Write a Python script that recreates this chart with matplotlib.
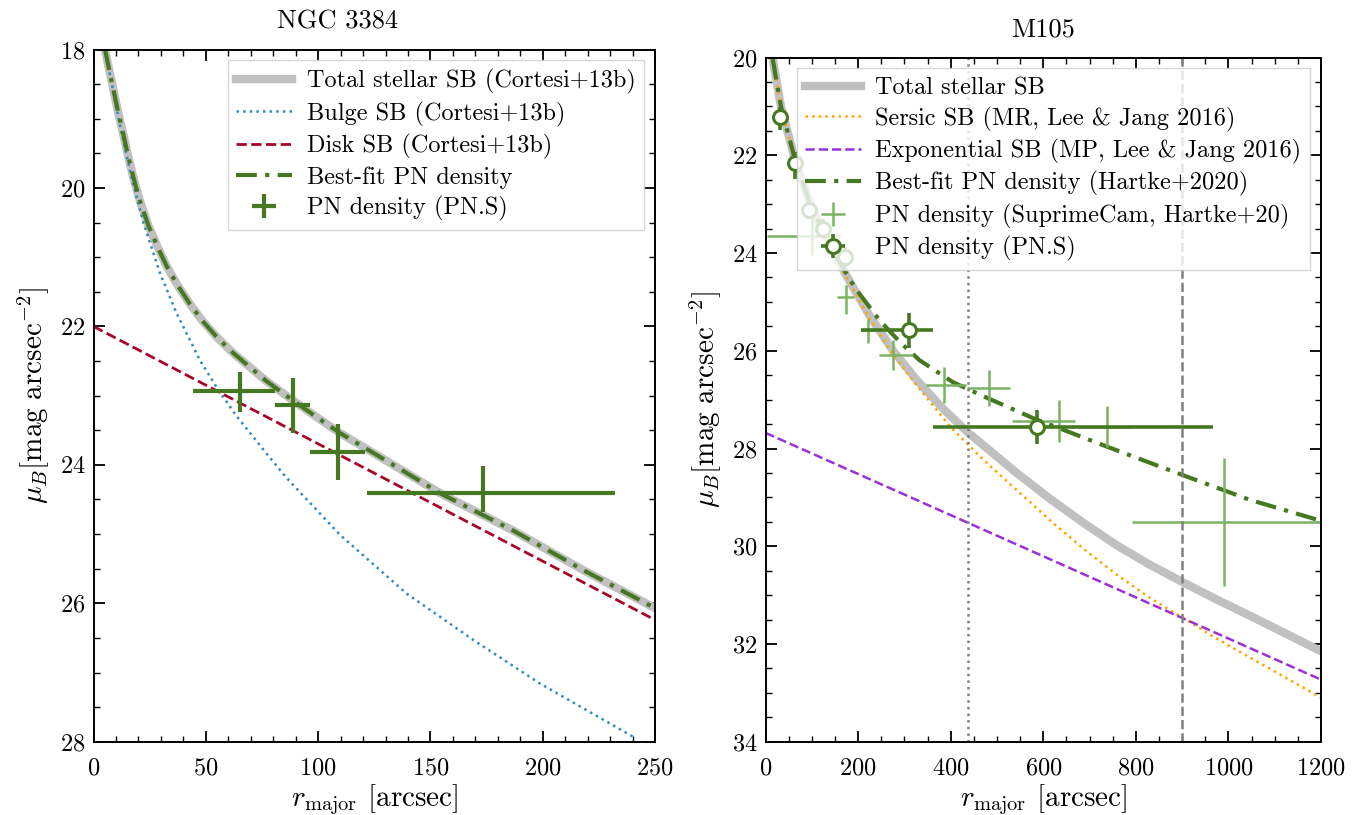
import numpy as np
import matplotlib
matplotlib.use('Agg')
import matplotlib.pyplot as plt
from matplotlib.ticker import MultipleLocator

plt.rcParams['font.family'] = ['cmr10', 'DejaVu Serif']
plt.rcParams['mathtext.fontset'] = 'cm'
plt.rcParams['axes.formatter.use_mathtext'] = True
plt.rcParams['font.size'] = 17

# ---------------- NGC 3384 ----------------
# total stellar SB
n3384_tot_r = [5.1, 8.8, 11.0, 13.3, 15.5, 17.7, 20.5, 24.4, 28.5, 32.6, 37.5, 43.0, 48.5, 54.8, 61.0, 68.2,
               77.0, 87.5, 98.0, 109.7, 121.6, 137.0, 154.3, 170.0, 186.9, 218.0, 250.0]
n3384_tot_mu = [18.0, 18.57, 18.91, 19.23, 19.55, 19.84, 20.17, 20.54, 20.85, 21.13, 21.41, 21.68, 21.92, 22.15,
                22.35, 22.55, 22.79, 23.04, 23.28, 23.54, 23.77, 24.07, 24.41, 24.67, 24.95, 25.52, 26.07]
# bulge SB
n3384_bulge_r = [5.5, 8.1, 12.1, 17.0, 22.2, 29.6, 37.0, 47.4, 55.6, 63.8, 77.1, 86.0, 109.7, 139.4, 169.1,
                 198.8, 228.5, 240.3]
n3384_bulge_mu = [18.05, 18.49, 19.14, 19.86, 20.50, 21.23, 21.81, 22.49, 22.92, 23.30, 23.84, 24.19, 25.01,
                  25.86, 26.53, 27.16, 27.71, 27.93]
# disk SB (straight line)
n3384_disk_r = [0.0, 250.0]
n3384_disk_mu = [22.0, 26.24]
# best-fit PN density
n3384_fit_r = [5.1, 8.8, 11.0, 13.3, 15.5, 17.7, 20.5, 24.4, 28.5, 32.6, 37.5, 43.0, 48.5, 54.8, 61.0, 68.2,
               77.0, 87.5, 98.0, 109.7, 121.6, 137.0, 154.3, 170.0, 186.9, 218.0, 250.0]
n3384_fit_mu = [18.0, 18.57, 18.91, 19.23, 19.55, 19.84, 20.17, 20.54, 20.85, 21.13, 21.41, 21.68, 21.92, 22.15,
                22.35, 22.55, 22.79, 23.04, 23.28, 23.54, 23.77, 24.07, 24.41, 24.67, 24.95, 25.52, 26.07]
# PN.S points
n3384_pn_r = [65.2, 88.7, 108.7, 173.3]
n3384_pn_mu = [22.94, 23.14, 23.81, 24.40]
n3384_pn_xlo = [20.8, 7.9, 12.3, 51.4]
n3384_pn_xhi = [15.6, 7.7, 12.2, 58.9]
n3384_pn_ylo = [0.28, 0.40, 0.40, 0.38]
n3384_pn_yhi = [0.30, 0.40, 0.41, 0.28]

# ---------------- M105 ----------------
m105_tot_r = [15.5, 33.5, 62.3, 91.0, 127.0, 156.0, 184.7, 224.2, 274.7, 325.0, 382.7, 437.0, 542.5, 614.5,
              686.5, 758.5, 830.5, 900.2, 974.5, 1046.0, 1118.0, 1200.0]
m105_tot_mu = [20.03, 21.01, 22.04, 22.85, 23.62, 24.14, 24.63, 25.27, 25.99, 26.58, 27.18, 27.67, 28.50, 29.03,
               29.52, 29.98, 30.38, 30.73, 31.09, 31.42, 31.76, 32.15]
m105_ser_r = [15.5, 33.5, 62.3, 91.0, 127.0, 156.0, 184.7, 224.2, 274.7, 325.0, 398.7, 470.4, 542.5, 614.5,
              686.5, 758.5, 830.5, 900.2, 974.5, 1118.0, 1200.0]
m105_ser_mu = [20.03, 21.02, 22.06, 22.87, 23.64, 24.17, 24.66, 25.33, 26.07, 26.69, 27.55, 28.23, 28.85, 29.47,
               30.05, 30.58, 31.06, 31.46, 31.89, 32.66, 33.10]
m105_exp_r = [0.0, 1200.0]
m105_exp_mu = [27.68, 32.73]
m105_fit_r = [15.5, 33.5, 62.3, 91.0, 127.0, 156.0, 184.7, 202.6, 245.8, 290.0, 332.2, 404.3, 470.4, 578.4,
              737.0, 900.0, 1046.0, 1200.0]
m105_fit_mu = [20.03, 21.01, 22.04, 22.85, 23.62, 24.12, 24.58, 24.83, 25.37, 25.82, 26.19, 26.64, 26.93, 27.38,
               27.96, 28.54, 29.05, 29.48]
# SuprimeCam PN density (Hartke+20)
m105_sc_r = [100.0, 173.9, 220.7, 274.7, 386.2, 483.4, 634.6, 738.2, 990.3]
m105_sc_mu = [23.65, 24.90, 25.58, 26.09, 26.70, 26.77, 27.43, 27.55, 29.51]
m105_sc_xlo = [97.0, 20.1, 14.7, 28.9, 39.5, 48.9, 102.9, 60.0, 199.3]
m105_sc_xhi = [60.0, 17.9, 28.3, 43.3, 46.8, 44.6, 33.9, 52.0, 219.7]
m105_sc_ylo = [0.40, 0.24, 0.24, 0.31, 0.36, 0.38, 0.43, 0.41, 1.32]
m105_sc_yhi = [0.40, 0.34, 0.27, 0.30, 0.37, 0.37, 0.43, 0.41, 1.31]
# PN.S PN density
m105_pn_r = [31.3, 64.4, 93.2, 123.5, 172.4, 310.6, 585.7]
m105_pn_mu = [21.21, 22.16, 23.11, 23.50, 24.08, 25.58, 27.56]
m105_pn_xlo = [10.0, 12.0, 12.0, 12.0, 12.0, 104.6, 224.7]
m105_pn_xhi = [10.0, 12.0, 12.0, 12.0, 12.0, 50.4, 381.3]
m105_pn_ylo = [0.20, 0.23, 0.2, 0.2, 0.2, 0.36, 0.35]
m105_pn_yhi = [0.27, 0.32, 0.2, 0.2, 0.2, 0.37, 0.35]
m105_vlines = [437.0, 900.0]

green = '#467821'
light_green = '#7ab463'
gray = '#c0c0c0'
dashdot = (0, (5, 2, 1, 2))
leg_kw = dict(loc='upper right', fancybox=False, edgecolor='0.8', fontsize=17.5, handlelength=2.3,
              handletextpad=0.6, borderpad=0.35, labelspacing=0.3, borderaxespad=0.45)

fig = plt.figure(figsize=(13.67, 8.15), dpi=100)
ax1 = fig.add_axes([0.0684, 0.0899, 0.4108, 0.8493])
ax2 = fig.add_axes([0.5600, 0.0899, 0.4064, 0.8395])

# NGC 3384 panel
ax1.plot(n3384_tot_r, n3384_tot_mu, color=gray, lw=6, label='Total stellar SB (Cortesi+13b)')
ax1.plot(n3384_bulge_r, n3384_bulge_mu, color='#348ABD', ls=':', lw=1.8, label='Bulge SB (Cortesi+13b)')
ax1.plot(n3384_disk_r, n3384_disk_mu, color='#A60628', ls='--', lw=2, label='Disk SB (Cortesi+13b)')
ax1.plot(n3384_fit_r, n3384_fit_mu, color=green, ls=dashdot, lw=3, label='Best-fit PN density')
ax1.errorbar(n3384_pn_r, n3384_pn_mu, xerr=[n3384_pn_xlo, n3384_pn_xhi],
             yerr=[n3384_pn_ylo, n3384_pn_yhi], fmt='none', ecolor=green, elinewidth=3,
             label='PN density (PN.S)')
ax1.set_xlim(0, 250)
ax1.set_ylim(28, 18)
ax1.xaxis.set_major_locator(MultipleLocator(50))
ax1.xaxis.set_minor_locator(MultipleLocator(10))
ax1.yaxis.set_major_locator(MultipleLocator(2))
ax1.yaxis.set_minor_locator(MultipleLocator(0.5))
ax1.set_title('NGC 3384', pad=15, fontsize=19, x=0.434)
ax1.legend(**leg_kw)

# M105 panel
ax2.plot(m105_tot_r, m105_tot_mu, color=gray, lw=6, label='Total stellar SB')
ax2.plot(m105_ser_r, m105_ser_mu, color='#FFA500', ls=':', lw=1.8, label='Sersic SB (MR, Lee & Jang 2016)')
ax2.plot(m105_exp_r, m105_exp_mu, color='#9B30D9', ls='--', lw=1.8, label='Exponential SB (MP, Lee & Jang 2016)')
ax2.plot(m105_fit_r, m105_fit_mu, color=green, ls=dashdot, lw=3, label='Best-fit PN density (Hartke+2020)')
ax2.errorbar(m105_sc_r, m105_sc_mu, xerr=[m105_sc_xlo, m105_sc_xhi],
             yerr=[m105_sc_ylo, m105_sc_yhi], fmt='none', ecolor=light_green, elinewidth=1.8,
             label='PN density (SuprimeCam, Hartke+20)')
ax2.errorbar(m105_pn_r, m105_pn_mu, xerr=[m105_pn_xlo, m105_pn_xhi],
             yerr=[m105_pn_ylo, m105_pn_yhi], fmt='o', color=green, mfc='white', mec=green,
             ms=10, mew=2.2, elinewidth=2.6, label='PN density (PN.S)')
ax2.axvline(m105_vlines[0], color='0.5', ls=':', lw=1.8)
ax2.axvline(m105_vlines[1], color='0.5', ls='--', lw=1.8)
ax2.set_xlim(0, 1200)
ax2.set_ylim(34, 20)
ax2.xaxis.set_major_locator(MultipleLocator(200))
ax2.xaxis.set_minor_locator(MultipleLocator(50))
ax2.yaxis.set_major_locator(MultipleLocator(2))
ax2.yaxis.set_minor_locator(MultipleLocator(0.5))
ax2.set_title('M105', pad=15, fontsize=19)
ax2.legend(**leg_kw)

for ax in (ax1, ax2):
    ax.set_xlabel(r'$r_\mathrm{major}$ [arcsec]', fontsize=21, labelpad=2)
    ax.set_ylabel(r'$\mu_B[\mathrm{mag\ arcsec}^{-2}]$', fontsize=21, labelpad=6)
    for s in ax.spines.values():
        s.set_linewidth(1.4)
    ax.tick_params(which='both', direction='in', top=True, right=True, labelsize=17.5)
    ax.tick_params(which='major', length=8, width=1.3, pad=11)
    ax.tick_params(which='minor', length=4, width=1.0)
    ax.tick_params(axis='y', which='major', pad=6)

fig.savefig('out.png', dpi=100)
